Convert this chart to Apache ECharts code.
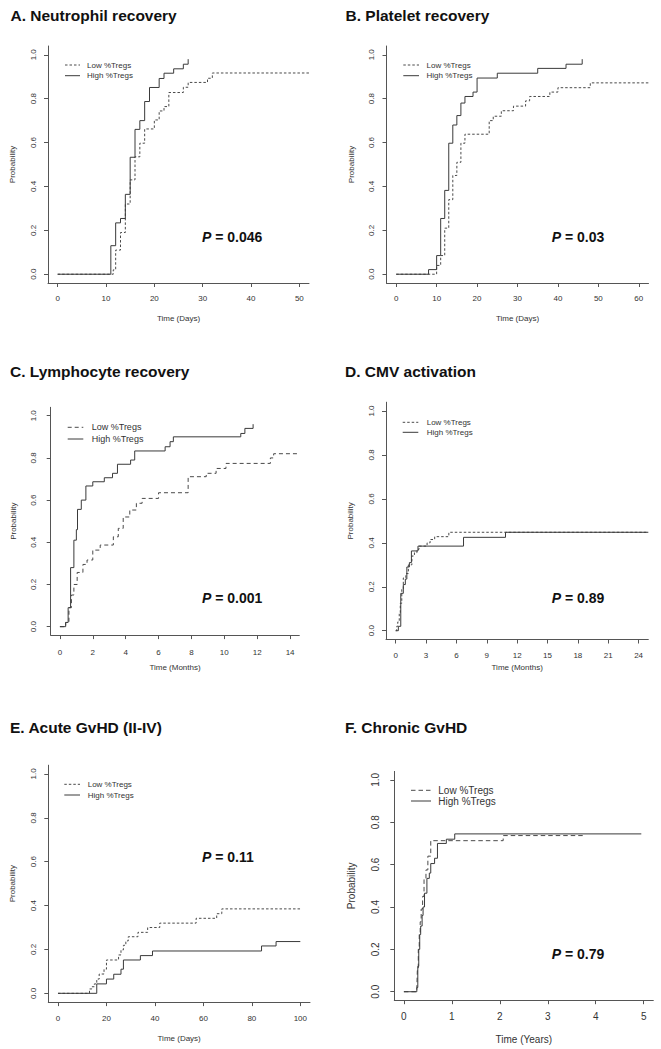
<!DOCTYPE html>
<html><head><meta charset="utf-8">
<script src="https://cdn.jsdelivr.net/npm/echarts@6/dist/echarts.min.js"></script>
<style>html,body{margin:0;padding:0;background:#fff}#c{width:661px;height:1049px}</style>
</head><body><div id="c"></div>
<script>
// ---------- DATA (time, cumulative probability) ----------
const neutroLow  = [[0,0],[11.5,0.02],[12,0.11],[13,0.19],[14,0.32],[15,0.43],[16,0.535],[17,0.597],[18,0.662],[20,0.703],[21,0.744],[22,0.764],[23,0.828],[26,0.852],[27,0.874],[31,0.893],[32,0.917],[52,0.917]];
const neutroHigh = [[0,0],[11,0.13],[12,0.234],[13,0.254],[14,0.364],[15,0.533],[16,0.66],[17,0.70],[18,0.787],[19,0.851],[21,0.892],[22,0.916],[24,0.936],[26,0.957],[27,0.98]];

const plateLow  = [[0,0],[10,0.04],[11,0.085],[12,0.21],[13,0.34],[14,0.45],[15,0.51],[16,0.597],[17,0.638],[23,0.70],[24,0.72],[26,0.745],[29,0.766],[32,0.79],[33,0.81],[38,0.83],[40,0.85],[48,0.872],[62.4,0.872]];
const plateHigh = [[0,0],[8,0.021],[10,0.085],[11,0.254],[12,0.382],[13,0.597],[14,0.68],[15,0.723],[16,0.78],[17,0.81],[19,0.83],[20,0.894],[25,0.916],[35,0.938],[42,0.957],[46,0.98]];

const lymphoLow  = [[0,0],[0.35,0.02],[0.55,0.09],[0.7,0.15],[0.85,0.2],[1.05,0.257],[1.4,0.295],[1.65,0.316],[2.0,0.363],[2.45,0.387],[3.25,0.426],[3.55,0.466],[3.85,0.52],[4.25,0.553],[4.65,0.585],[5.0,0.608],[6.0,0.635],[7.8,0.711],[8.9,0.727],[9.5,0.75],[10.1,0.774],[12.8,0.80],[13.0,0.82],[14.56,0.82]];
const lymphoHigh = [[0,0],[0.35,0.02],[0.5,0.09],[0.65,0.28],[0.85,0.41],[1.0,0.46],[1.07,0.556],[1.3,0.60],[1.58,0.667],[2.0,0.687],[2.7,0.706],[3.2,0.727],[3.5,0.77],[4.3,0.79],[4.55,0.833],[6.4,0.853],[6.7,0.877],[6.9,0.90],[11.0,0.916],[11.25,0.94],[11.75,0.96]];

const cmvLow  = [[0,0],[0.1,0.02],[0.2,0.04],[0.35,0.08],[0.45,0.125],[0.6,0.19],[0.75,0.24],[1.0,0.26],[1.25,0.30],[1.6,0.34],[1.85,0.355],[2.1,0.37],[2.3,0.385],[3.1,0.40],[3.4,0.415],[3.85,0.428],[5.25,0.448],[24.96,0.448]];
const cmvHigh = [[0,0],[0.26,0.02],[0.5,0.17],[0.75,0.21],[0.95,0.235],[1.1,0.29],[1.35,0.31],[1.55,0.363],[2.2,0.385],[6.7,0.425],[10.85,0.448],[24.96,0.448]];

const agvhdLow  = [[0,0],[13,0.02],[14,0.03],[15,0.043],[16,0.065],[17,0.088],[19,0.11],[20,0.152],[25,0.175],[26,0.198],[27,0.219],[28,0.239],[29,0.258],[33,0.278],[37,0.30],[42,0.32],[57,0.342],[65.5,0.363],[67.6,0.385],[100,0.385]];
const agvhdHigh = [[0,0],[16,0.043],[20,0.065],[23,0.087],[26,0.11],[27,0.152],[34,0.172],[39,0.193],[84,0.216],[90,0.236],[100,0.236]];

const cgvhdLow  = [[0,0],[0.27,0.02],[0.28,0.1],[0.30,0.2],[0.32,0.28],[0.34,0.33],[0.36,0.39],[0.39,0.45],[0.42,0.53],[0.46,0.575],[0.50,0.64],[0.56,0.713],[2.07,0.737],[3.74,0.737]];
const cgvhdHigh = [[0,0],[0.27,0.02],[0.29,0.12],[0.31,0.2],[0.33,0.27],[0.35,0.31],[0.38,0.36],[0.40,0.40],[0.43,0.465],[0.48,0.535],[0.53,0.56],[0.56,0.605],[0.64,0.63],[0.70,0.70],[0.885,0.72],[1.06,0.745],[4.95,0.745]];

// ---------- TICKS / LABELS ----------
const probTicks   = [0,0.2,0.4,0.6,0.8,1.0];
const ticksA = [0,10,20,30,40,50];
const ticksB = [0,10,20,30,40,50,60];
const ticksC = [0,2,4,6,8,10,12,14];
const ticksD = [0,3,6,9,12,15,18,21,24];
const ticksE = [0,20,40,60,80,100];
const ticksF = [0,1,2,3,4,5];
const titles = ['A. Neutrophil recovery','B. Platelet recovery','C. Lymphocyte recovery','D. CMV activation','E. Acute GvHD (II-IV)','F. Chronic GvHD'];
const xNames = ['Time (Days)','Time (Days)','Time (Months)','Time (Months)','Time (Days)','Time (Years)'];
const pValues = ['0.046','0.03','0.001','0.89','0.11','0.79'];
const seriesNames = ['Low %Tregs','High %Tregs'];

// ---------- LAYOUT ----------
const FONT = '"Liberation Sans", Arial, Helvetica, sans-serif';
const AX = '#555', TXT = '#333', LINE = '#3a3a3a', DLINE = '#4a4a4a';
const panels = [
 {grid:{left:48,top:46,width:261,height:237}, xMin:-2, xMax:52, xt:ticksA, low:neutroLow, high:neutroHigh, dash:[2.5,2],
  fs:8, xm:11, xg:31, ym:11, yg:32, title:[10.5,15], leg:[65,80,87,65,75.7], lfs:8, p:[202,237]},
 {grid:{left:386.5,top:46,width:262,height:237}, xMin:-2.4, xMax:62.4, xt:ticksB, low:plateLow, high:plateHigh, dash:[2.5,2],
  fs:8, xm:11, xg:31, ym:11, yg:31.5, title:[345.5,15], leg:[403.3,419,426.5,65,75.7], lfs:8, p:[551.7,236.7]},
 {grid:{left:50.7,top:407.3,width:248.6,height:227.8}, xMin:-0.56, xMax:14.56, xt:ticksC, low:lymphoLow, high:lymphoHigh, dash:[4,3],
  fs:8, xm:13.5, xg:28, ym:13, yg:33.5, title:[10,371.7], leg:[67.7,83.3,91.7,427.3,439], lfs:9, p:[202,597.7]},
 {grid:{left:386,top:402.2,width:262.3,height:237.3}, xMin:-0.96, xMax:24.96, xt:ticksD, low:cmvLow, high:cmvHigh, dash:[2.5,2],
  fs:8, xm:11.5, xg:23.5, ym:10.3, yg:31.3, title:[345,371.7], leg:[402.7,418.3,426.7,422.3,432.3], lfs:8, p:[551.7,597.7]},
 {grid:{left:48.3,top:765.2,width:261.7,height:236.9}, xMin:-4, xMax:104, xt:ticksE, low:agvhdLow, high:agvhdHigh, dash:[2.5,2],
  fs:8, xm:12.3, xg:32, ym:11, yg:32.3, title:[10,727.3], leg:[64.3,80,87.7,784.3,795], lfs:8, p:[202,856.7]},
 {grid:{left:394.3,top:771.4,width:259,height:228.8}, xMin:-0.2, xMax:5.2, xt:ticksF, low:cgvhdLow, high:cgvhdHigh, dash:[4.5,3],
  fs:10, xm:11.5, xg:33.8, ym:14.3, yg:37.6, title:[345,727.3], leg:[411,431,438.3,790.3,801], lfs:10, p:[551.7,954.3]}
];

const grid=[], xAxis=[], yAxis=[], series=[], graphic=[];
panels.forEach((p,i)=>{
  grid.push(Object.assign({containLabel:false}, p.grid));
  xAxis.push({type:'value', gridIndex:i, min:p.xMin, max:p.xMax,
    axisLine:{show:true,onZero:false,lineStyle:{color:AX,width:1}},
    axisTick:{show:true,length:4,customValues:p.xt,lineStyle:{color:AX,width:1}},
    axisLabel:{customValues:p.xt,margin:p.xm,fontSize:p.fs,color:TXT,fontFamily:FONT},
    splitLine:{show:false},
    name:xNames[i], nameLocation:'middle', nameGap:p.xg,
    nameTextStyle:{fontSize:p.fs,color:TXT,fontFamily:FONT}});
  yAxis.push({type:'value', gridIndex:i, min:-0.04, max:1.04,
    axisLine:{show:true,onZero:false,lineStyle:{color:AX,width:1}},
    axisTick:{show:true,length:4,customValues:probTicks,lineStyle:{color:AX,width:1}},
    axisLabel:{customValues:probTicks,rotate:90,margin:p.ym,fontSize:p.fs,color:TXT,fontFamily:FONT,
      formatter:v=>Number(v).toFixed(1)},
    splitLine:{show:false},
    name:'Probability', nameLocation:'middle', nameRotate:90, nameGap:p.yg,
    nameTextStyle:{fontSize:p.fs,color:TXT,fontFamily:FONT}});
  series.push({name:seriesNames[0], type:'line', xAxisIndex:i, yAxisIndex:i, data:p.low, step:'end',
    showSymbol:false, symbol:'none', lineStyle:{color:DLINE,width:1,type:p.dash}, silent:true});
  series.push({name:seriesNames[1], type:'line', xAxisIndex:i, yAxisIndex:i, data:p.high, step:'end',
    showSymbol:false, symbol:'none', lineStyle:{color:LINE,width:1,type:'solid'}, silent:true});
  // title
  graphic.push({type:'text', x:p.title[0], y:p.title[1], style:{text:titles[i], fill:'#111',
    font:'bold 15.5px '+FONT, align:'left', verticalAlign:'middle'}});
  // legend
  const [lx1,lx2,tx,ly1,ly2] = p.leg;
  graphic.push({type:'line', shape:{x1:lx1,y1:ly1,x2:lx2,y2:ly1}, style:{stroke:DLINE,lineWidth:1,lineDash:p.dash}});
  graphic.push({type:'line', shape:{x1:lx1,y1:ly2,x2:lx2,y2:ly2}, style:{stroke:LINE,lineWidth:1}});
  graphic.push({type:'text', x:tx, y:ly1, style:{text:seriesNames[0], fill:TXT, font:p.lfs+'px '+FONT, align:'left', verticalAlign:'middle'}});
  graphic.push({type:'text', x:tx, y:ly2, style:{text:seriesNames[1], fill:TXT, font:p.lfs+'px '+FONT, align:'left', verticalAlign:'middle'}});
  // p value
  graphic.push({type:'text', x:p.p[0], y:p.p[1], style:{text:'{i|P}{b| = '+pValues[i]+'}', align:'left', verticalAlign:'middle',
    rich:{i:{fontStyle:'italic',fontWeight:'bold',fontSize:14,fontFamily:FONT,fill:'#111'},
          b:{fontWeight:'bold',fontSize:14,fontFamily:FONT,fill:'#111'}}}});
});

const chart = echarts.init(document.getElementById('c'), null, {renderer:'svg', width:661, height:1049});
chart.setOption({animation:false, backgroundColor:'#fff', grid, xAxis, yAxis, series, graphic});
</script></body></html>
